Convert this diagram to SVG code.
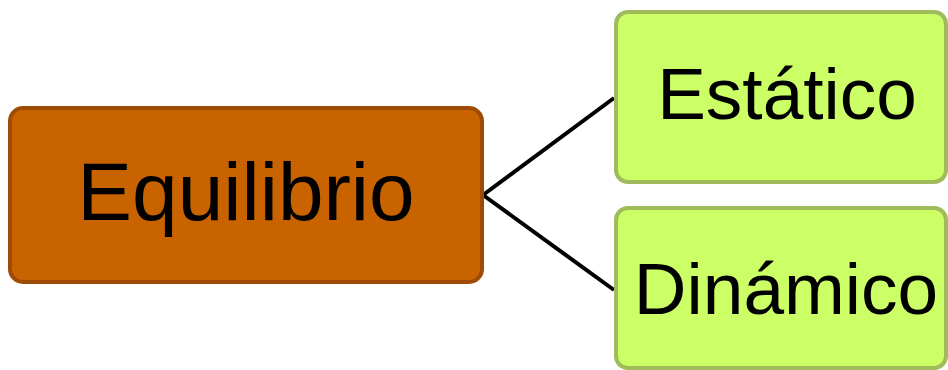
<svg xmlns="http://www.w3.org/2000/svg" width="948" height="370" viewBox="0 0 948 370">
<style>
.lbl{font-family:"Liberation Sans",Arial,sans-serif;fill:#000;text-anchor:middle}
.conn{stroke:#000;stroke-width:4;fill:none}
.green{fill:#ccff66;stroke:#a0bb5c;stroke-width:4}
</style>
<rect width="948" height="370" fill="#fff"/>
<g id="connectors">
<line class="conn" x1="483" y1="195" x2="614" y2="98"/>
<line class="conn" x1="483" y1="195" x2="614" y2="290"/>
</g>
<g id="equilibrio">
<rect x="10" y="108" width="472" height="174" rx="13" fill="#c96300" stroke="#9e4b06" stroke-width="4"/>
<text class="lbl" x="246" y="220" font-size="82">Equilibrio</text>
</g>
<g id="estatico">
<rect class="green" x="616" y="12" width="330" height="170" rx="12"/>
<text class="lbl" x="787" y="119" font-size="73">Estático</text>
</g>
<g id="dinamico">
<rect class="green" x="616" y="208" width="330" height="160" rx="12"/>
<text class="lbl" x="786" y="314" font-size="73">Dinámico</text>
</g>
</svg>
